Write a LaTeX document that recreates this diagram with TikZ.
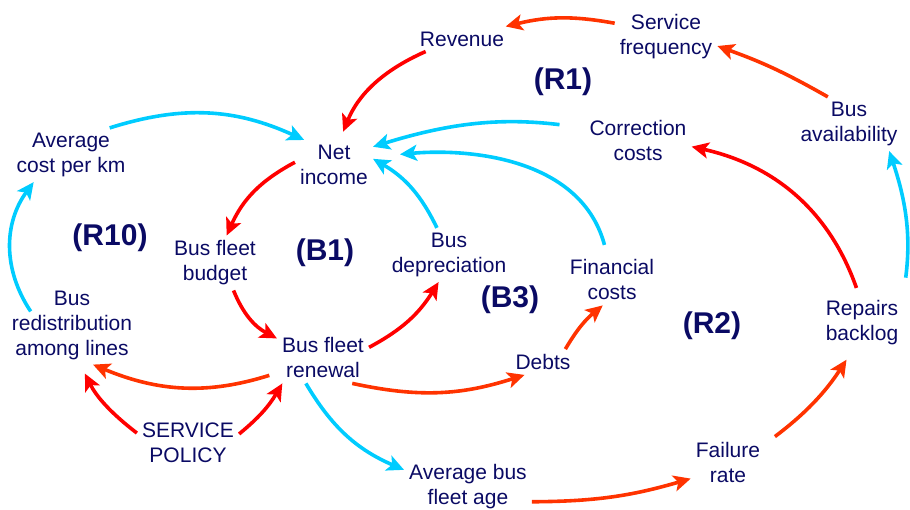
\documentclass[tikz,border=0pt]{standalone}
\usepackage{fontspec}
\setmainfont{Liberation Sans}
\usetikzlibrary{arrows.meta}
\definecolor{navy}{HTML}{0A0A64}
\definecolor{cred}{HTML}{FF0000}
\definecolor{cora}{HTML}{FF3300}
\definecolor{ccyan}{HTML}{00CCFF}
\tikzset{
  varnode/.style={text=navy, align=center, inner sep=5pt, font=\fontsize{21}{25}\selectfont},
  looplabel/.style={text=navy, inner sep=0pt, font=\bfseries\fontsize{30}{34}\selectfont},
  arr/.style={line width=3.6pt, -{Stealth[length=17pt,width=16pt,inset=4pt]}},
  redarr/.style={arr, cred},
  orarr/.style={arr, cora},
  cyanarr/.style={arr, ccyan}
}

\begin{document}
\begin{tikzpicture}[x=1pt,y=1pt]
\useasboundingbox (0,0) rectangle (910,510);
\node[varnode] (rev) at (462,471) {Revenue};
\node[varnode] (freq) at (666,473) {Service\\frequency};
\node[varnode] (net) at (334,345) {Net\\income};
\node[varnode] (avgcost) at (71,355) {Average\\cost per km};
\node[varnode] (corr) at (638,369) {Correction\\costs};
\node[varnode] (avail) at (849,386) {Bus\\availability};
\node[varnode] (budget) at (215,247) {Bus fleet\\budget};
\node[varnode] (depr) at (449,255) {Bus\\depreciation};
\node[varnode] (fin) at (612,230) {Financial\\costs};
\node[varnode] (redis) at (72,185) {Bus\\redistribution\\among lines};
\node[varnode] (renew) at (323,152) {Bus fleet\\renewal};
\node[varnode] (debts) at (543,148) {Debts};
\node[varnode] (backlog) at (862,187) {Repairs\\backlog};
\node[varnode] (policy) at (188,67) {SERVICE\\POLICY};
\node[varnode] (failure) at (728,48) {Failure\\rate};
\node[varnode] (age) at (468,23) {Average bus\\fleet age};
\node[looplabel] (R1) at (563,428) {(R1)};
\node[looplabel] (R10) at (110,272) {(R10)};
\node[looplabel] (B1) at (325,257) {(B1)};
\node[looplabel] (B3) at (510,210) {(B3)};
\node[looplabel] (R2) at (712,184) {(R2)};
\coordinate (redisout) at ([shift={(24,-26)}]redis.north west);
\draw[orarr] (freq.165) to[bend right=12] (rev.16);
\draw[orarr] (avail.128) to[bend right=5] (freq.-10);
\draw[redarr, shorten >=9pt] (rev.199) to[bend right=22] (net.77);
\draw[cyanarr] (avgcost.35) to[bend left=21] (net.140);
\draw[cyanarr, shorten <=25pt] (corr.166) to[bend right=12] (net.25);
\draw[cyanarr, shorten <=10pt, shorten >=27pt] (fin.101) to[out=105,in=5] (net.12);
\draw[cyanarr] (depr.114) to[bend right=17] (net.9);
\draw[redarr] (net.176) to[bend right=19] (budget.67);
\draw[redarr] (budget.-56) to[bend right=20] (renew.157);
\draw[redarr] (renew.13) to[bend right=15] (depr.249);
\draw[orarr] (renew.-41) to[bend right=15] (debts.215);
\draw[orarr] (debts.30) to[bend left=10] (fin.250);
\draw[orarr, shorten <=8pt] (renew.198) to[bend left=20] (redis.298);
\draw[redarr, shorten >=10pt] (policy.169) to[bend left=13] (redis.282);
\draw[redarr] (policy.10) to[bend right=10] (renew.212);
\draw[cyanarr] (redisout) to[bend left=35] (avgcost.216);
\draw[cyanarr] (renew.236) to[bend right=18] (age.165);
\draw[orarr] (age.-13.5) to[bend right=8] (failure.204);
\draw[orarr, shorten <=12pt, shorten >=11pt] (failure.26) to[bend right=10] (backlog.251);
\draw[redarr, shorten <=8pt] (backlog.96) to[bend right=29] (corr.-6);
\draw[cyanarr, shorten <=18pt] (backlog.north east) to[bend right=13] (avail.-34);
\end{tikzpicture}
\end{document}
